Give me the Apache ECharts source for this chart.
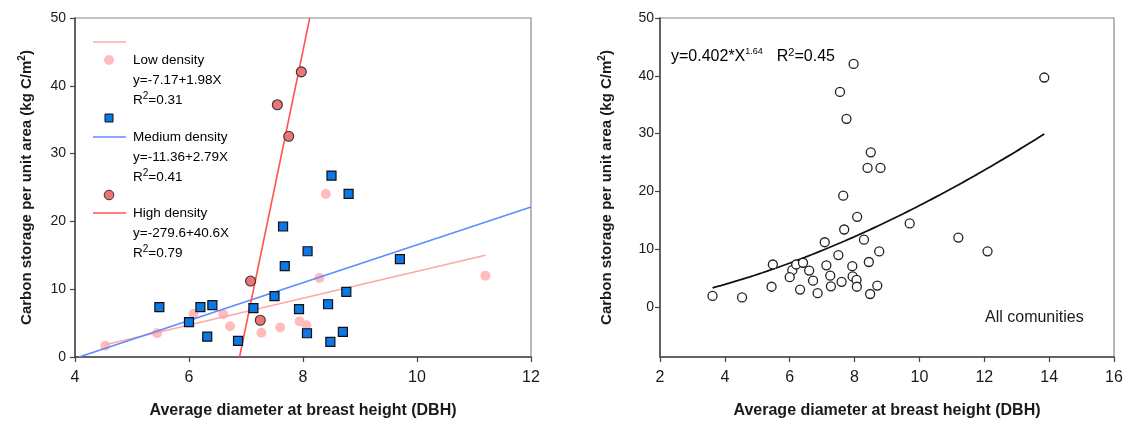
<!DOCTYPE html>
<html>
<head>
<meta charset="utf-8">
<script src="https://cdn.jsdelivr.net/npm/echarts@6/dist/echarts.min.js"></script>
<style>
  html, body { margin: 0; padding: 0; background: #ffffff; }
  #chart { width: 1128px; height: 428px; }
</style>
</head>
<body>
<div id="chart"></div>
<script>
// Stand-level data: [average DBH, carbon storage per unit area (kg C/m2)]
const lowDensity = [
  [4.53, 1.65], [5.44, 3.5], [6.08, 6.37], [6.60, 6.3], [6.72, 4.54], [7.27, 3.57],
  [7.60, 4.35], [7.94, 5.28], [8.06, 4.68], [8.29, 11.65], [8.40, 24.05], [11.2, 12.0]
];
const mediumDensity = [
  [5.48, 7.35], [6.00, 5.15], [6.20, 7.35], [6.32, 3.0], [6.41, 7.65], [6.86, 2.38],
  [7.13, 7.2], [7.50, 8.98], [7.65, 19.25], [7.68, 13.4], [7.93, 7.06], [8.07, 3.5],
  [8.08, 15.6], [8.44, 7.78], [8.48, 2.24], [8.50, 26.75], [8.70, 3.7], [8.76, 9.6],
  [8.80, 24.05], [9.70, 14.45]
];
const highDensity = [
  [7.08, 11.2], [7.25, 5.42], [7.55, 37.2], [7.75, 32.55], [7.97, 42.05]
];
// Stands outside the DBH range of the density panel
const otherStands = [[3.62, 1.9], [12.10, 9.63], [13.85, 39.7]];

// Fitted relations
const lowFit = { a: -7.17, b: 1.98, r2: '0.31' };
const mediumFit = { a: -11.36, b: 2.79, r2: '0.41' };
const highFit = { a: -279.6, b: 40.6, r2: '0.79' };
const powerFit = { a: 0.402, b: 1.64, r2: '0.45' };

// Axis ticks
const xTicksLeft = { min: 4, max: 12, step: 2 };
const yTicksLeft = { min: 0, max: 50, step: 10 };
const xTicksRight = { min: 2, max: 16, step: 2 };
const yTicksRight = [0, 10, 20, 30, 40, 50];

const allStands = lowDensity.concat(mediumDensity, highDensity, otherStands);

// Straight fit line clipped to the plotted x/y range
function linearSegment(fit, xLo, xHi, yLo, yHi) {
  let x0 = xLo, x1 = xHi;
  const xAtLo = (yLo - fit.a) / fit.b, xAtHi = (yHi - fit.a) / fit.b;
  x0 = Math.max(x0, Math.min(xAtLo, xAtHi));
  x1 = Math.min(x1, Math.max(xAtLo, xAtHi));
  return [[x0, fit.a + fit.b * x0], [x1, fit.a + fit.b * x1]];
}
function xExtent(pts) {
  const xs = pts.map(p => p[0]);
  return [Math.min.apply(null, xs), Math.max.apply(null, xs)];
}
const lowExt = xExtent(lowDensity);
const lowLine = linearSegment(lowFit, lowExt[0], lowExt[1], -1e9, 1e9);
const mediumLine = linearSegment(mediumFit, xTicksLeft.min, xTicksLeft.max, yTicksLeft.min, yTicksLeft.max);
const highLine = linearSegment(highFit, xTicksLeft.min, xTicksLeft.max, yTicksLeft.min, yTicksLeft.max);

const allExt = xExtent(allStands);
const powerCurve = [];
for (let i = 0; i <= 80; i++) {
  const x = allExt[0] + (allExt[1] - allExt[0]) * i / 80;
  powerCurve.push([x, powerFit.a * Math.pow(x, powerFit.b)]);
}

const FONT = 'Liberation Sans, Arial, sans-serif';
const TXT = '#1a1a1a';

const COLORS = {
  lowFill: '#ffbcbc', lowLine: '#ffa8a8',
  medFill: '#0b78e6', medLine: '#5f8bff',
  highFill: '#ec7474', highLine: '#ff5555'
};

const yName = '{t|Carbon storage per unit area (kg C/m}{s|2}{t|)}';
const yNameRich = {
  t: { fontFamily: FONT, fontSize: 15, fontWeight: 'bold', color: TXT, lineHeight: 20 },
  s: { fontFamily: FONT, fontSize: 10, fontWeight: 'bold', color: TXT, lineHeight: 11, verticalAlign: 'top' }
};

function xAxisCfg(gridIndex, t) {
  return {
    gridIndex, type: 'value', min: t.min, max: t.max, interval: t.step,
    name: 'Average diameter at breast height (DBH)',
    nameLocation: 'middle', nameGap: 46,
    nameTextStyle: { fontFamily: FONT, fontSize: 16, fontWeight: 'bold', color: TXT },
    axisLine: { show: true, onZero: false, lineStyle: { color: '#444', width: 1.5 } },
    axisTick: { show: true, inside: false, length: 5, lineStyle: { color: '#444', width: 1.2 } },
    axisLabel: { fontFamily: FONT, fontSize: 16, color: TXT, margin: 13 },
    splitLine: { show: false }
  };
}

const legendRich = {
  n: { fontFamily: FONT, fontSize: 13.5, color: '#262626', lineHeight: 18 },
  s: { fontFamily: FONT, fontSize: 10, color: '#262626', lineHeight: 10, verticalAlign: 'top' }
};
function legendText(x, y, text) {
  return { type: 'text', x, y, style: { text, rich: legendRich, verticalAlign: 'middle', align: 'left' } };
}
function fmtEq(fit) {
  const sign = v => (v < 0 ? '-' : '+') + Math.abs(v);
  return '{n|y=' + sign(fit.a) + sign(fit.b) + 'X}';
}

const graphics = [
  // density legend
  { type: 'line', shape: { x1: 93, y1: 42, x2: 126, y2: 42 }, style: { stroke: COLORS.lowLine, lineWidth: 1.6 } },
  { type: 'circle', shape: { cx: 109, cy: 60, r: 5 }, style: { fill: COLORS.lowFill } },
  legendText(133, 60, '{n|Low density}'),
  legendText(133, 80, fmtEq(lowFit)),
  legendText(133, 100, '{n|R}{s|2}{n|=' + lowFit.r2 + '}'),
  { type: 'rect', shape: { x: 105, y: 114, width: 8, height: 8 }, style: { fill: COLORS.medFill, stroke: '#111', lineWidth: 1 } },
  { type: 'line', shape: { x1: 93, y1: 137, x2: 126, y2: 137 }, style: { stroke: COLORS.medLine, lineWidth: 1.6 } },
  legendText(133, 137, '{n|Medium density}'),
  legendText(133, 157, fmtEq(mediumFit)),
  legendText(133, 177, '{n|R}{s|2}{n|=' + mediumFit.r2 + '}'),
  { type: 'circle', shape: { cx: 109, cy: 195, r: 4.8 }, style: { fill: COLORS.highFill, stroke: '#333', lineWidth: 1 } },
  { type: 'line', shape: { x1: 93, y1: 213, x2: 126, y2: 213 }, style: { stroke: COLORS.highLine, lineWidth: 1.6 } },
  legendText(133, 213, '{n|High density}'),
  legendText(133, 233, fmtEq(highFit)),
  legendText(133, 253, '{n|R}{s|2}{n|=' + highFit.r2 + '}'),
  // power fit annotation
  {
    type: 'text', x: 671, y: 57,
    style: {
      text: '{n|y=' + powerFit.a + '*X}{s|' + powerFit.b + '}{g|}{n|R}{s2|2}{n|=' + powerFit.r2 + '}',
      verticalAlign: 'middle',
      rich: {
        n: { fontFamily: FONT, fontSize: 16, color: TXT, lineHeight: 20 },
        s: { fontFamily: FONT, fontSize: 9, color: TXT, lineHeight: 10, verticalAlign: 'top' },
        s2: { fontFamily: FONT, fontSize: 11, color: TXT, lineHeight: 12, verticalAlign: 'top' },
        g: { width: 14 }
      }
    }
  },
  {
    type: 'text', x: 985, y: 318,
    style: { text: 'All comunities', fontFamily: FONT, fontSize: 16, fill: TXT, verticalAlign: 'middle' }
  }
];

const option = {
  backgroundColor: '#ffffff',
  animation: false,
  grid: [
    { left: 75, right: 597, top: 18, bottom: 71, show: true, borderColor: '#888', borderWidth: 1.2, backgroundColor: 'transparent' },
    { left: 660, right: 14, top: 18, bottom: 71, show: true, borderColor: '#888', borderWidth: 1.2, backgroundColor: 'transparent' }
  ],
  xAxis: [xAxisCfg(0, xTicksLeft), xAxisCfg(1, xTicksRight)],
  yAxis: [
    {
      gridIndex: 0, type: 'value', min: yTicksLeft.min, max: yTicksLeft.max, interval: yTicksLeft.step,
      name: yName, nameLocation: 'middle', nameGap: 38, nameRotate: 90,
      nameTextStyle: { rich: yNameRich },
      axisLine: { show: true, onZero: false, lineStyle: { color: '#444', width: 1.5 } },
      axisTick: { show: true, inside: false, length: 5, lineStyle: { color: '#444', width: 1.2 } },
      axisLabel: { fontFamily: FONT, fontSize: 14, color: TXT, margin: 9 },
      splitLine: { show: false }
    },
    {
      gridIndex: 1, type: 'value', min: -8.66, max: 50,
      name: yName, nameLocation: 'middle', nameGap: 43, nameRotate: 90,
      nameTextStyle: { rich: yNameRich },
      axisLine: { show: true, onZero: false, lineStyle: { color: '#444', width: 1.5 } },
      axisTick: { show: true, inside: false, length: 5, customValues: yTicksRight, lineStyle: { color: '#444', width: 1.2 } },
      axisLabel: { fontFamily: FONT, fontSize: 14, color: TXT, margin: 6, customValues: yTicksRight },
      splitLine: { show: false }
    }
  ],
  series: [
    {
      name: 'Low density', type: 'scatter', xAxisIndex: 0, yAxisIndex: 0, z: 1,
      data: lowDensity, symbol: 'circle', symbolSize: 10,
      itemStyle: { color: COLORS.lowFill, opacity: 1 }
    },
    {
      name: 'Low density fit', type: 'line', xAxisIndex: 0, yAxisIndex: 0, z: 2,
      data: lowLine, symbol: 'none', lineStyle: { color: COLORS.lowLine, width: 1.6 }
    },
    {
      name: 'Medium density fit', type: 'line', xAxisIndex: 0, yAxisIndex: 0, z: 2, clip: true,
      data: mediumLine, symbol: 'none', lineStyle: { color: COLORS.medLine, width: 1.6 }
    },
    {
      name: 'High density fit', type: 'line', xAxisIndex: 0, yAxisIndex: 0, z: 2, clip: true,
      data: highLine, symbol: 'none', lineStyle: { color: COLORS.highLine, width: 1.6 }
    },
    {
      name: 'Medium density', type: 'scatter', xAxisIndex: 0, yAxisIndex: 0, z: 3,
      data: mediumDensity, symbol: 'rect', symbolSize: 9,
      itemStyle: { color: COLORS.medFill, borderColor: '#111', borderWidth: 1.2, opacity: 1 }
    },
    {
      name: 'High density', type: 'scatter', xAxisIndex: 0, yAxisIndex: 0, z: 3,
      data: highDensity, symbol: 'circle', symbolSize: 10,
      itemStyle: { color: COLORS.highFill, borderColor: '#333', borderWidth: 1.1, opacity: 1 }
    },
    {
      name: 'All communities', type: 'scatter', xAxisIndex: 1, yAxisIndex: 1, z: 3,
      data: allStands, symbol: 'circle', symbolSize: 9,
      itemStyle: { color: '#ffffff', borderColor: '#222', borderWidth: 1.3, opacity: 1 }
    },
    {
      name: 'Power fit', type: 'line', xAxisIndex: 1, yAxisIndex: 1, z: 2,
      data: powerCurve, symbol: 'none', smooth: false,
      lineStyle: { color: '#111', width: 1.8 }
    }
  ],
  graphic: graphics
};

const chart = echarts.init(document.getElementById('chart'), null, { renderer: 'canvas' });
chart.setOption(option);
</script>
</body>
</html>
